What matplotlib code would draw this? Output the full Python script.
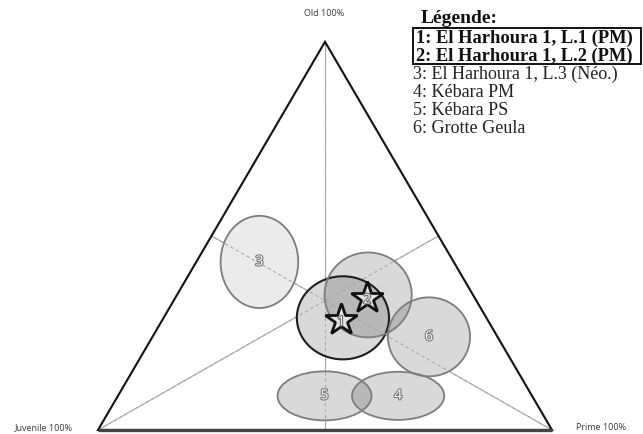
import numpy as np
import matplotlib
matplotlib.use("Agg")
import matplotlib.pyplot as plt
from matplotlib.patches import Ellipse, Polygon, Rectangle
import matplotlib.patheffects as pe

# -----------------------------
# Dados (composição ternária em %)
# -----------------------------
site_ids = ["1", "2", "3", "4", "5", "6"]
juvenile = [31.6, 23.1, 42.8, 29.5, 45.7, 15.1]
prime = [39.5, 42.1, 13.9, 61.7, 45.5, 60.9]
old = [28.9, 34.8, 43.3, 8.8, 8.8, 24.0]
# tamanho das elipses (em unidades do lado do triângulo)
ell_w = [0.203, 0.192, 0.171, 0.203, 0.207, 0.181]
ell_h = [0.183, 0.187, 0.203, 0.106, 0.108, 0.174]

# estrelas (PM de El Harhoura)
star_ids = ["1", "2"]
star_prime = [39.4, 42.3]
star_old = [28.3, 34.0]

legend_title = "Légende:"
legend_bold = ["1: El Harhoura 1, L.1 (PM)", "2: El Harhoura 1, L.2 (PM)"]
legend_plain = ["3: El Harhoura 1, L.3 (Néo.)", "4: Kébara PM", "5: Kébara PS", "6: Grotte Geula"]

H = 0.855  # altura do triângulo


def tern_xy(p, o):
    p = np.asarray(p) / 100.0
    o = np.asarray(o) / 100.0
    return p + 0.5 * o, o * H


W, Hpx = 643, 434
fig = plt.figure(figsize=(W / 100, Hpx / 100), dpi=100)
ax = fig.add_axes([0, 0, 1, 1])
ax.set_xlim(-98 / 454, 545 / 454)
ax.set_ylim(-4 / 454, 430 / 454)
ax.axis("off")

verts = np.array([[0, 0], [1, 0], [0.5, H]])
mids = np.array([(verts[1] + verts[2]) / 2, (verts[0] + verts[2]) / 2, (verts[0] + verts[1]) / 2])

# medianas (sólidas por baixo, tracejadas por cima das elipses)
med_color = "#a8a8a8"
for v, m in zip(verts, mids):
    ax.plot([v[0], m[0]], [v[1], m[1]], color=med_color, lw=0.8, zorder=1)
    ax.plot([v[0], m[0]], [v[1], m[1]], color=med_color, lw=0.8, ls=(0, (3, 2.5)), zorder=4)

# triângulo
ax.add_patch(Polygon(verts, closed=True, fill=False, ec="#111111", lw=1.5, zorder=6))
ax.plot([0, 1], [0, 0], color="#444444", lw=2.4, zorder=6, solid_capstyle="butt")

cx, cy = tern_xy(prime, old)
for i, sid in enumerate(site_ids):
    ax.add_patch(Ellipse((cx[i], cy[i]), ell_w[i], ell_h[i], fc="white", ec="none", zorder=2))
    a = 0.08 if sid == "3" else 0.15
    ax.add_patch(Ellipse((cx[i], cy[i]), ell_w[i], ell_h[i], fc=(0, 0, 0, a), ec="none", zorder=3))
    ec = "#1e1e1e" if sid == "1" else "#7d7d7d"
    lw = 1.5 if sid == "1" else 1.3
    ax.add_patch(Ellipse((cx[i], cy[i]), ell_w[i], ell_h[i], fill=False, ec=ec, lw=lw, zorder=5))
    if sid not in star_ids:
        ax.text(cx[i], cy[i], sid, ha="center", va="center", fontsize=10, family="Open Sans",
                color="white", zorder=8,
                path_effects=[pe.withStroke(linewidth=1.6, foreground="#777777")])

sx, sy = tern_xy(star_prime, star_old)
ax.plot(sx, sy, ls="none", marker="*", ms=24, mfc="#e2e2e2", mec="#111111", mew=2.0, zorder=7)
for x, y, sid in zip(sx, sy, star_ids):
    ax.text(x, y - 0.004, sid, ha="center", va="center", fontsize=9.5, family="Open Sans",
            color="white", zorder=8,
            path_effects=[pe.withStroke(linewidth=1.6, foreground="#666666")])

# rótulos dos vértices
lab = dict(fontsize=6.5, family="Open Sans", color="#3a3a3a")
fig.text(324 / W, 1 - 14 / Hpx, "Old 100%", ha="center", va="center", **lab)
fig.text(44 / W, 1 - 428 / Hpx, "Juvenile 100%", ha="center", va="center", **lab)
fig.text(601 / W, 1 - 428 / Hpx, "Prime 100%", ha="center", va="center", **lab)

# legenda
serif = "Liberation Serif"
fig.text(421 / W, 1 - 23 / Hpx, legend_title, ha="left", va="baseline", fontsize=14,
         family=serif, weight="bold", color="#111111")
y0 = 43
for i, s in enumerate(legend_bold):
    fig.text(416 / W, 1 - (y0 + 18 * i) / Hpx, s, ha="left", va="baseline", fontsize=13.3,
             family=serif, weight="bold", color="#111111")
for i, s in enumerate(legend_plain):
    fig.text(413 / W, 1 - (y0 + 18 * (i + 2)) / Hpx, s, ha="left", va="baseline", fontsize=13,
             family=serif, color="#222222")
fig.patches.append(Rectangle((413 / W, 1 - 64 / Hpx), 228 / W, 36 / Hpx, fill=False,
                             ec="#111111", lw=1.4, transform=fig.transFigure, figure=fig))

fig.savefig("out.png", dpi=100)
